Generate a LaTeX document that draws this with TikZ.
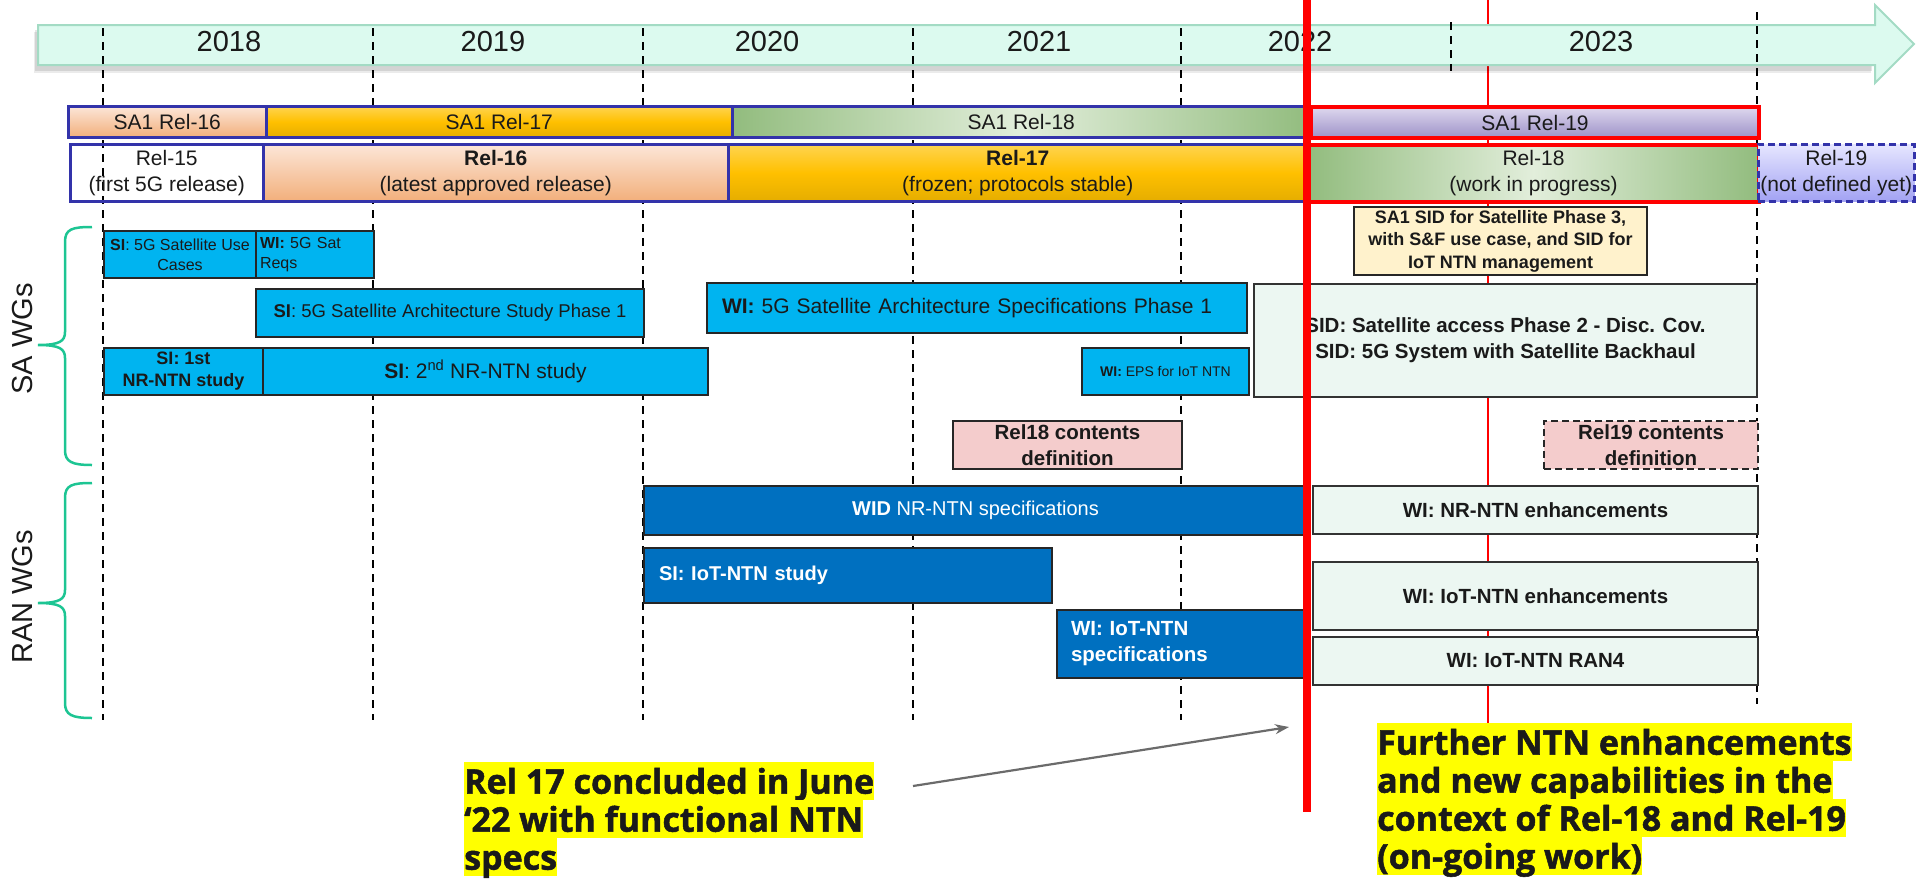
\documentclass[tikz,border=0pt]{standalone}
\usepackage{fontspec}
\setmainfont{Liberation Sans}
\newfontfamily\calloutfont{Open Sans}[BoldFeatures={FakeBold=1.5}]
\usetikzlibrary{arrows.meta}

\definecolor{mint}{HTML}{DCFAEF}
\definecolor{mintedge}{HTML}{A3DBC4}
\definecolor{relblue}{HTML}{3333AA}
\definecolor{peachT}{HTML}{FCE6D8}
\definecolor{peachB}{HTML}{F2AF7B}
\definecolor{goldT}{HTML}{FFD450}
\definecolor{goldM}{HTML}{FFC000}
\definecolor{goldB}{HTML}{E5AD00}
\definecolor{greenD}{HTML}{92BC7E}
\definecolor{greenL}{HTML}{E2EEDB}
\definecolor{lavT}{HTML}{DED8EE}
\definecolor{lavB}{HTML}{9D91C8}
\definecolor{periT}{HTML}{E6E6FF}
\definecolor{periB}{HTML}{A2A2F3}
\definecolor{skyfill}{HTML}{00B4F0}
\definecolor{navyfill}{HTML}{0070C0}
\definecolor{palefill}{HTML}{ECF7F2}
\definecolor{creamfill}{HTML}{FFF2CC}
\definecolor{pinkfill}{HTML}{F4CCCC}
\definecolor{bracegreen}{HTML}{1DC593}
\definecolor{hiyellow}{HTML}{FFFF00}
\definecolor{ink}{HTML}{1A1A1A}
\definecolor{pointer}{HTML}{6B6B6B}

\tikzset{
  gridline/.style={black, line width=1.8pt, dash pattern=on 8pt off 6pt},
  yearlbl/.style={font=\fontsize{29}{31}\selectfont, text=ink},
  rel/.style={draw=relblue, line width=2.5pt, inner sep=0pt, anchor=north west,
    align=center, text=ink, font=\fontsize{21}{26}\selectfont},
  peach/.style={top color=peachT, bottom color=peachB},
  gold/.style={top color=goldT, bottom color=goldB, middle color=goldM},
  greenh/.style={left color=greenD, right color=greenD, middle color=greenL},
  lav/.style={top color=lavT, bottom color=lavB},
  peri/.style={top color=periT, bottom color=periB},
  wgbox/.style={draw=black!85, line width=2pt, inner sep=0pt, anchor=north west,
    align=center, text=ink},
  skybox/.style={wgbox, fill=skyfill},
  navybox/.style={wgbox, fill=navyfill, text=white},
  palebox/.style={wgbox, fill=palefill, draw=black!80},
  pinkbox/.style={wgbox, fill=pinkfill},
  wglabel/.style={rotate=90, font=\fontsize{29}{31}\selectfont, text=ink},
  brace/.style={bracegreen, line width=2.5pt},
  callout/.style={anchor=north west, fill=hiyellow, inner xsep=0pt, inner ysep=0pt,
    text height=31.5pt, text depth=6.5pt, text=ink,
    font=\calloutfont\bfseries\fontsize{34}{38}\selectfont},
  pointerarrow/.style={pointer, line width=2.2pt, -{Stealth[length=14pt,width=10pt]}},
}

\begin{document}
\begin{tikzpicture}[x=1pt,y=-1pt]
\useasboundingbox (0,0) rectangle (1917,881);

% thin marker for the current date, behind everything
\draw[red, line width=1.8pt] (1488,0) -- (1488,725);

% timeline arrow with its shadow
\fill[black, opacity=0.10] (35,30) -- (1872,30) -- (1872,71) -- (35,71) -- cycle;
\fill[black, opacity=0.08] (34,32) -- (1871,32) -- (1871,73) -- (34,73) -- cycle;
\draw[draw=mintedge, fill=mint, line width=2pt]
  (38,25) -- (1875,25) -- (1875,5) -- (1914,44) -- (1875,83) -- (1875,65) -- (38,65) -- cycle;

% year grid
\foreach \gx in {103,373,643,913,1181}
  \draw[gridline] (\gx,28) -- (\gx,720);
\draw[gridline] (1757,12) -- (1757,704);
\draw[gridline] (1451,22) -- (1451,71);

% year labels
\node[yearlbl] (y18) at (229,42) {2018};
\node[yearlbl] (y19) at (493,42) {2019};
\node[yearlbl] (y20) at (767,42) {2020};
\node[yearlbl] (y21) at (1039,42) {2021};
\node[yearlbl] (y22) at (1300,42) {2022};
\node[yearlbl] (y23) at (1601,42) {2023};

% SA1 releases
\node[rel, peach, minimum width=198pt, minimum height=31pt] (sa16) at (67,105) {SA1 Rel-16};
\node[rel, gold, minimum width=466pt, minimum height=31pt] (sa17) at (265,105) {SA1 Rel-17};
\node[rel, greenh, minimum width=578pt, minimum height=31pt] (sa18) at (731,105) {SA1 Rel-18};
\node[rel, lav, draw=red, line width=4pt, minimum width=448pt, minimum height=31pt] (sa19) at (1309,105) {SA1 Rel-19};

% 3GPP releases
\node[rel, minimum width=193pt, minimum height=57pt] (r15) at (69,143) {Rel-15\\(first 5G release)};
\node[rel, peach, minimum width=465pt, minimum height=57pt] (r16) at (262,143) {\textbf{Rel-16}\\(latest approved release)};
\node[rel, gold, minimum width=579pt, minimum height=57pt] (r17) at (727,143) {\textbf{Rel-17}\\(frozen; protocols stable)};
\node[rel, greenh, draw=red, line width=4pt, minimum width=451pt, minimum height=57pt] (r18) at (1306,143) {Rel-18\\(work in progress)};
\node[rel, peri, dash pattern=on 7pt off 4pt, minimum width=156pt, minimum height=57pt] (r19) at (1757,143) {Rel-19\\(not defined yet)};

% SA working groups
\draw[brace] (92,227) .. controls (72,227) and (65,229) .. (65,242) -- (65,332)
  .. controls (65,341) and (60,345) .. (38,345) .. controls (60,345) and (65,349) .. (65,358)
  -- (65,450) .. controls (65,462) and (72,465) .. (92,465);
\node[wglabel] (sawg) at (23,339) {SA WGs};

\node[skybox, minimum width=152pt, minimum height=47pt, font=\fontsize{16}{20}\selectfont] (siuc) at (103,230) {\textbf{SI}: 5G Satellite Use\\Cases};
\node[skybox, minimum width=118pt, minimum height=47pt, align=left, inner xsep=4pt, text width=110pt, font=\fontsize{16}{20}\selectfont] (wireq) at (255,230) {\textbf{WI:} 5G Sat\\Reqs};
\node[skybox, minimum width=388pt, minimum height=48pt, font=\fontsize{18.5}{22}\selectfont] (siarch) at (255,288) {\textbf{SI}: 5G Satellite Architecture Study Phase 1};
\node[skybox, minimum width=540pt, minimum height=50pt, align=left, inner xsep=15pt, text width=510pt, font=\fontsize{21}{25}\selectfont] (wiarch) at (706,282) {\textbf{WI:} 5G Satellite Architecture Specifications Phase 1};
\node[skybox, minimum width=159pt, minimum height=47pt, font=\bfseries\fontsize{18}{22}\selectfont] (sinr1) at (103,347) {SI: 1st\\NR-NTN study};
\node[skybox, minimum width=445pt, minimum height=47pt, font=\fontsize{21}{25}\selectfont] (sinr2) at (262,347) {\textbf{SI}: 2\textsuperscript{nd} NR-NTN study};
\node[skybox, minimum width=167pt, minimum height=47pt, font=\fontsize{14}{17}\selectfont] (wieps) at (1081,347) {\textbf{WI:} EPS for IoT NTN};
\node[wgbox, fill=creamfill, minimum width=293pt, minimum height=68pt, font=\bfseries\fontsize{18}{22.5}\selectfont] (sa1sid) at (1353,206) {SA1 SID for Satellite Phase 3,\\with S\&F use case, and SID for\\IoT NTN management};
\node[palebox, minimum width=503pt, minimum height=113pt, font=\bfseries\fontsize{20.5}{26}\selectfont] (sidsat) at (1253,283) {SID: Satellite access Phase 2 - Disc. Cov.\\SID: 5G System with Satellite Backhaul};
\node[pinkbox, minimum width=229pt, minimum height=48pt, font=\bfseries\fontsize{20.5}{26}\selectfont] (rel18cd) at (952,420) {Rel18 contents\\definition};
\node[pinkbox, dash pattern=on 7pt off 4pt, minimum width=214pt, minimum height=48pt, font=\bfseries\fontsize{20.5}{26}\selectfont] (rel19cd) at (1543,420) {Rel19 contents\\definition};

% RAN working groups
\draw[brace] (92,483) .. controls (72,483) and (65,485) .. (65,498) -- (65,590)
  .. controls (65,599) and (60,603) .. (38,603) .. controls (60,603) and (65,607) .. (65,616)
  -- (65,703) .. controls (65,715) and (72,718) .. (92,718);
\node[wglabel] (ranwg) at (23,597) {RAN WGs};

\node[navybox, minimum width=663pt, minimum height=49pt, font=\fontsize{20}{24}\selectfont] (widnr) at (643,485) {\textbf{WID} NR-NTN specifications};
\node[navybox, minimum width=408pt, minimum height=55pt, align=left, inner xsep=15pt, text width=378pt, font=\bfseries\fontsize{20}{24}\selectfont] (siiot) at (643,547) {SI: IoT-NTN study};
\node[navybox, minimum width=250pt, minimum height=68pt, align=left, inner xsep=14pt, text width=222pt, font=\bfseries\fontsize{20.5}{26}\selectfont] (wiiot) at (1056,609) {WI: IoT-NTN\\specifications};
\node[palebox, minimum width=445pt, minimum height=48pt, font=\bfseries\fontsize{20.5}{24}\selectfont] (winrenh) at (1312,485) {WI: NR-NTN enhancements};
\node[palebox, minimum width=445pt, minimum height=68pt, font=\bfseries\fontsize{20.5}{24}\selectfont] (wiiotenh) at (1312,561) {WI: IoT-NTN enhancements};
\node[palebox, minimum width=445pt, minimum height=48pt, font=\bfseries\fontsize{20.5}{24}\selectfont] (wiran4) at (1312,636) {WI: IoT-NTN RAN4};

% highlighted notes
\node[callout] (nowa) at (1377,723) {Further NTN enhancements};
\node[callout] (nowb) at (1377,761) {and new capabilities in the};
\node[callout] (nowc) at (1377,799) {context of Rel-18 and Rel-19};
\node[callout] (nowd) at (1377,837) {(on-going work)};
\node[callout] (donea) at (464,762) {Rel 17 concluded in June};
\node[callout] (doneb) at (464,800) {‘22 with functional NTN};
\node[callout] (donec) at (464,838) {specs};

\coordinate (ptrfrom) at (913,786);
\coordinate (ptrto) at (1289,727);
\draw[pointerarrow] (ptrfrom) -- (ptrto);

% Rel-17 freeze marker, on top
\draw[red, line width=8pt] (1307,0) -- (1307,812);
\end{tikzpicture}
\end{document}
